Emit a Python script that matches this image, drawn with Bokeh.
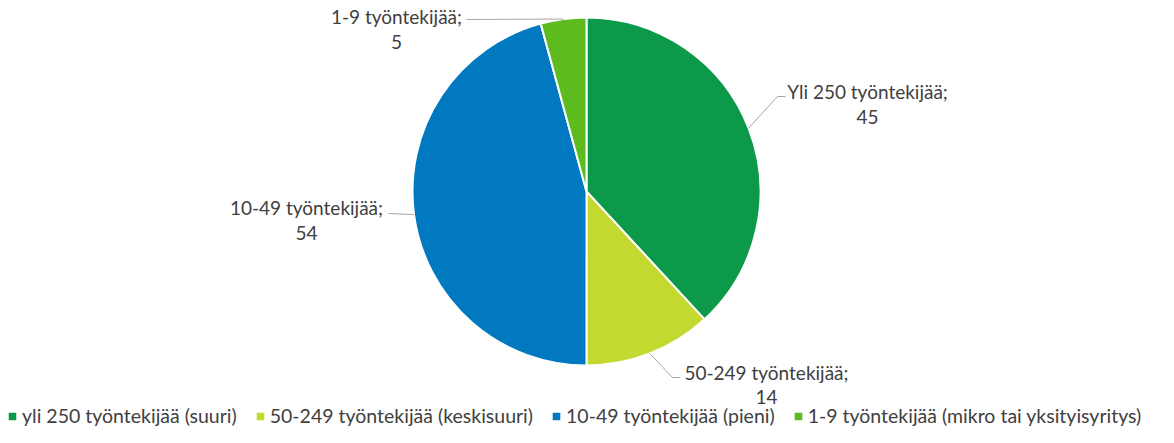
import numpy as np
from bokeh.plotting import figure
from bokeh.models import Range1d, Legend, LegendItem, ColumnDataSource
from bokeh.core.properties import value
from bokeh.embed import file_html
from bokeh.resources import INLINE

# ---- data ----
categories = ["yli 250 työntekijää (suuri)", "50-249 työntekijää (keskisuuri)",
              "10-49 työntekijää (pieni)", "1-9 työntekijää (mikro tai yksityisyritys)"]
label_names = ["Yli 250 työntekijää", "50-249 työntekijää", "10-49 työntekijää", "1-9 työntekijää"]
values = [45, 14, 54, 5]
colors = ["#0C9A4A", "#C3D92F", "#0079C1", "#5DBB1F"]

# ---- layout (picture pixel coordinates) ----
FONT = "Lato"
FS = "19px"
LFS = "19.5px"
TXT = "#404040"
W, H = 1158, 427
DY = -5  # small upward shift so the legend fits


def Y(py):
    return H - (py + DY)


cx, cy, R = 586, Y(196), 174
# label anchor: (center x, line1 y, line2 y)
label_pos = [(867, 96, 121), (766, 377, 401), (306, 212, 237), (396, 21, 46)]
# leader: points after the slice-edge point
leaders = [[(777, 101), (785, 101)], [(672, 382), (680, 382)], [(388, 218)], [(466, 24)]]

total = float(sum(values))
cum = np.cumsum([0] + values)
start = [np.pi / 2 - 2 * np.pi * cum[i] / total for i in range(len(values))]
end = [np.pi / 2 - 2 * np.pi * cum[i + 1] / total for i in range(len(values))]
mid = [(s + e) / 2 for s, e in zip(start, end)]

p = figure(width=W, height=H, output_backend="svg", toolbar_location=None,
           x_range=Range1d(0, W), y_range=Range1d(0, H),
           min_border=0, outline_line_color=None)
p.axis.visible = False
p.grid.visible = False

renderers = []
for i in range(len(values)):
    src = ColumnDataSource(dict(x=[cx], y=[cy], s=[start[i]], e=[end[i]]))
    r = p.wedge(x="x", y="y", radius=R, start_angle="s", end_angle="e", direction="clock",
                fill_color=colors[i], line_color="white", line_width=2, source=src)
    renderers.append(r)

# leader lines
for i in range(len(values)):
    ex = cx + R * np.cos(mid[i])
    ey = cy + R * np.sin(mid[i])
    xs = [ex] + [pt[0] for pt in leaders[i]]
    ys = [ey] + [Y(pt[1]) for pt in leaders[i]]
    p.line(xs, ys, line_color="#A6A6A6", line_width=1)

# data labels
for i in range(len(values)):
    lx, l1, l2 = label_pos[i]
    p.text(x=[lx, lx], y=[Y(l1), Y(l2)], text=[label_names[i] + ";", str(values[i])],
           text_align="center", text_baseline="middle", text_font=value(FONT),
           text_font_size=FS, text_color=TXT)

legend = Legend(items=[LegendItem(label=categories[i], renderers=[renderers[i]]) for i in range(len(values))],
                orientation="horizontal", location=(6, 0), glyph_width=12, glyph_height=12,
                label_standoff=4, spacing=17, padding=0, margin=0,
                border_line_alpha=0, background_fill_alpha=0,
                label_text_font=FONT, label_text_font_size=LFS, label_text_color=TXT,
                label_height=20)
p.add_layout(legend)

open("out.html", "w").write(file_html(p, INLINE))
